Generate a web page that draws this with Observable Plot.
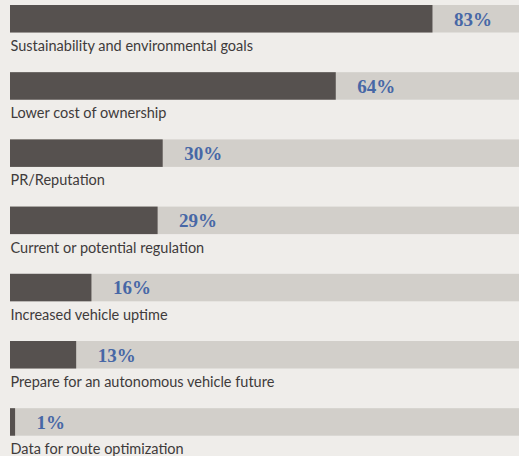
<!DOCTYPE html>
<html>
<head>
<meta charset="utf-8">
<script src="https://cdn.jsdelivr.net/npm/d3@7"></script>
<script src="https://cdn.jsdelivr.net/npm/@observablehq/plot@0.6"></script>
<style>
  html, body { margin: 0; padding: 0; background: #efedea; }
  #chart svg { display: block; }
</style>
</head>
<body>
<div id="chart"></div>
<script>
const categories = [
  "Sustainability and environmental goals",
  "Lower cost of ownership",
  "PR/Reputation",
  "Current or potential regulation",
  "Increased vehicle uptime",
  "Prepare for an autonomous vehicle future",
  "Data for route optimization"
];
const values = [83, 64, 30, 29, 16, 13, 1];
const valueLabels = ["83%", "64%", "30%", "29%", "16%", "13%", "1%"];

const data = categories.map((c, i) => ({category: c, value: values[i], label: valueLabels[i]}));

const bandStep = 67.2;
const barH = 27.5;

const chart = Plot.plot({
  width: 519,
  height: 456,
  marginLeft: 10,
  marginRight: 0,
  marginTop: 0,
  marginBottom: 0,
  style: {background: "#efedea", overflow: "visible"},
  x: {domain: [0, 100], axis: null},
  y: {domain: categories, range: [5, 5 + bandStep * categories.length], padding: 0, round: false, axis: null},
  marks: [
    Plot.barX(data, {x1: 0, x2: 100, y: "category", fill: "#d2cfca", insetBottom: bandStep - barH}),
    Plot.barX(data, {x1: 0, x2: "value", y: "category", fill: "#56514f", insetBottom: bandStep - barH}),
    Plot.text(data, {
      x: "value", y: "category", text: "label",
      textAnchor: "start", lineAnchor: "bottom", dx: 21, dy: 20 - bandStep / 2,
      fill: "#4767a6", fontFamily: "Liberation Serif", fontWeight: "bold", fontSize: 19
    }),
    Plot.text(data, {
      frameAnchor: "left", y: "category", text: "category",
      textAnchor: "start", lineAnchor: "bottom", dy: 45.5 - bandStep / 2,
      fill: "#403b3b", fontFamily: "Lato", fontSize: 14.5
    })
  ]
});
document.getElementById("chart").appendChild(chart);
</script>
</body>
</html>
